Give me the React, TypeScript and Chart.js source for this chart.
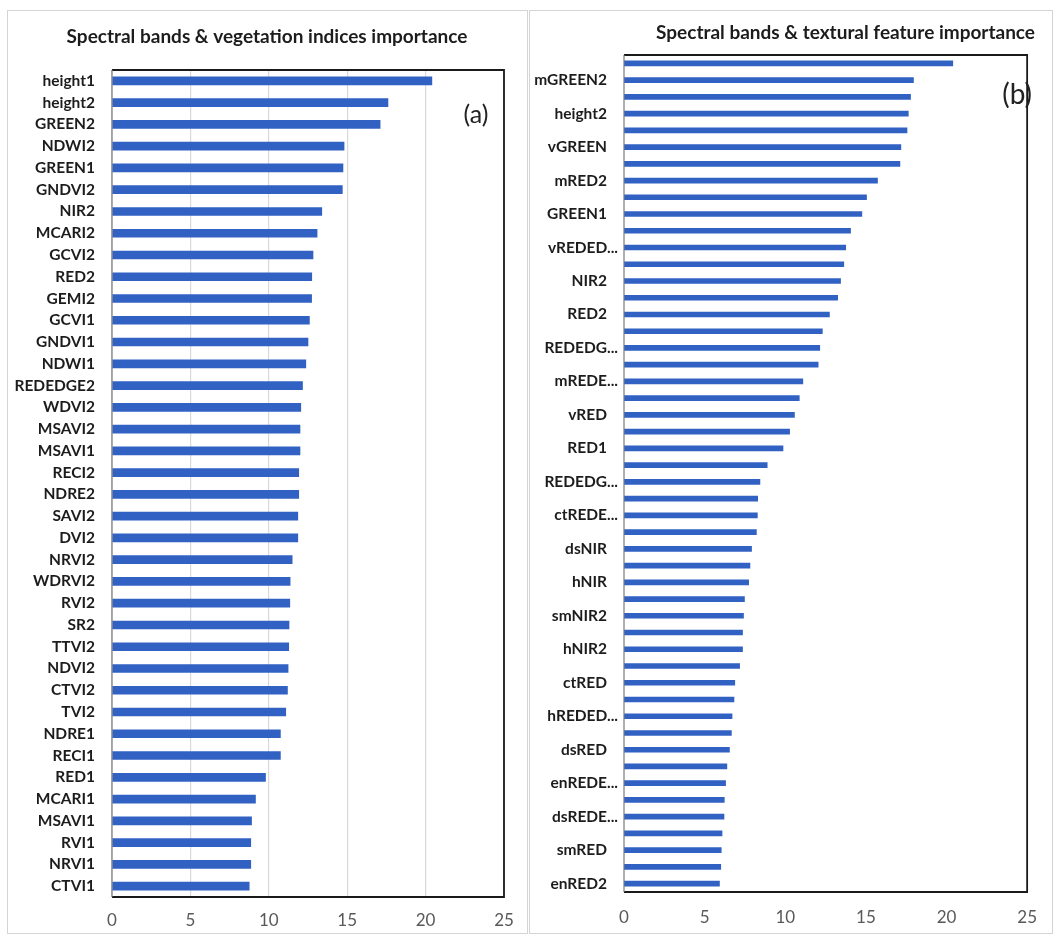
import { useEffect, useRef } from 'react';
import { Chart, registerables } from 'chart.js';

Chart.register(...registerables);

// Panel (a): spectral bands & vegetation indices
const vegLabels = [
  'height1', 'height2', 'GREEN2', 'NDWI2', 'GREEN1', 'GNDVI2', 'NIR2', 'MCARI2', 'GCVI2', 'RED2',
  'GEMI2', 'GCVI1', 'GNDVI1', 'NDWI1', 'REDEDGE2', 'WDVI2', 'MSAVI2', 'MSAVI1', 'RECI2', 'NDRE2',
  'SAVI2', 'DVI2', 'NRVI2', 'WDRVI2', 'RVI2', 'SR2', 'TTVI2', 'NDVI2', 'CTVI2', 'TVI2',
  'NDRE1', 'RECI1', 'RED1', 'MCARI1', 'MSAVI1', 'RVI1', 'NRVI1', 'CTVI1',
];
const vegValues = [
  20.4, 17.6, 17.1, 14.8, 14.73, 14.69, 13.38, 13.08, 12.82, 12.74,
  12.73, 12.59, 12.5, 12.36, 12.15, 12.04, 11.99, 11.99, 11.91, 11.91,
  11.85, 11.85, 11.49, 11.36, 11.34, 11.29, 11.27, 11.23, 11.19, 11.08,
  10.74, 10.74, 9.79, 9.15, 8.9, 8.85, 8.85, 8.75,
];

// Panel (b): spectral bands & textural features (only every second name is printed)
const texLabels = [
  '', 'mGREEN2', '', 'height2', '', 'vGREEN', '', 'mRED2', '', 'GREEN1',
  '', 'vREDED...', '', 'NIR2', '', 'RED2', '', 'REDEDG...', '', 'mREDE...',
  '', 'vRED', '', 'RED1', '', 'REDEDG...', '', 'ctREDE...', '', 'dsNIR',
  '', 'hNIR', '', 'smNIR2', '', 'hNIR2', '', 'ctRED', '', 'hREDED...',
  '', 'dsRED', '', 'enREDE...', '', 'dsREDE...', '', 'smRED', '', 'enRED2',
];
const texValues = [
  20.39, 17.95, 17.77, 17.63, 17.55, 17.17, 17.11, 15.72, 15.04, 14.75,
  14.05, 13.75, 13.63, 13.43, 13.25, 12.74, 12.3, 12.14, 12.04, 11.09,
  10.87, 10.57, 10.27, 9.86, 8.88, 8.43, 8.29, 8.27, 8.21, 7.91,
  7.81, 7.73, 7.47, 7.41, 7.35, 7.35, 7.17, 6.87, 6.82, 6.7,
  6.66, 6.54, 6.38, 6.3, 6.22, 6.2, 6.08, 6.03, 6.0, 5.92,
];

const xMin = 0;
const xMax = 25;
const xStep = 5;

const FONT = 'Lato, "Open Sans", "DejaVu Sans", sans-serif';
const BAR_COLOR = '#3162C3';
const TEXT_DARK = '#1c1c1c';

// Black frame round the plot area plus the panel letter
const plotBox = {
  id: 'plotBox',
  afterDraw(chart: any, _args: any, opts: any) {
    const { ctx, chartArea: a } = chart;
    ctx.save();
    ctx.strokeStyle = '#1a1a1a';
    ctx.lineWidth = 1.8;
    ctx.beginPath();
    ctx.moveTo(a.left, a.top);
    ctx.lineTo(a.right, a.top);
    ctx.lineTo(a.right, a.bottom);
    ctx.lineTo(a.left, a.bottom);
    ctx.stroke();
    ctx.strokeStyle = '#7a7a7a';
    ctx.lineWidth = 1.2;
    ctx.beginPath();
    ctx.moveTo(a.left, a.top);
    ctx.lineTo(a.left, a.bottom);
    ctx.stroke();
    if (opts && opts.tag) {
      ctx.font = `${opts.tagSize}px ${FONT}`;
      ctx.fillStyle = '#222';
      ctx.textAlign = 'center';
      ctx.textBaseline = 'middle';
      ctx.fillText(opts.tag, a.right + opts.tagDx, a.top + opts.tagDy);
    }
    ctx.restore();
  },
};

// Category names drawn beside the axis; clipped names let their "..." hang past the edge
const catLabels = {
  id: 'catLabels',
  afterDraw(chart: any, _args: any, opts: any) {
    if (!opts || !opts.enabled) return;
    const { ctx, chartArea: a } = chart;
    const yScale = chart.scales.y;
    const labels: string[] = chart.data.labels;
    ctx.save();
    ctx.font = `bold ${opts.size}px ${FONT}`;
    ctx.fillStyle = TEXT_DARK;
    ctx.textAlign = 'right';
    ctx.textBaseline = 'middle';
    const dots = ctx.measureText('...').width;
    labels.forEach((lab, i) => {
      if (!lab) return;
      const extra = lab.endsWith('...') ? dots : 0;
      ctx.fillText(lab, a.left - opts.gap + extra, yScale.getPixelForValue(i));
    });
    ctx.restore();
  },
};

type PanelProps = {
  left: number;
  width: number;
  title: string;
  titleAlign: 'start' | 'center' | 'end';
  titlePad: { top: number; bottom: number };
  labels: string[];
  values: number[];
  barThickness: number;
  padLeft: number;
  padRight: number;
  yWidth: number;
  xHeight: number;
  xTickPad: number;
  grid: boolean;
  tag: string;
  tagSize: number;
  tagDx: number;
  tagDy: number;
};

function Panel(p: PanelProps) {
  const ref = useRef<HTMLCanvasElement | null>(null);

  useEffect(() => {
    if (!ref.current) return;
    const chart = new Chart(ref.current, {
      type: 'bar',
      data: {
        labels: p.labels,
        datasets: [
          {
            data: p.values,
            backgroundColor: BAR_COLOR,
            borderWidth: 0,
            barThickness: p.barThickness,
          },
        ],
      },
      plugins: [plotBox, catLabels],
      options: {
        indexAxis: 'y',
        responsive: false,
        animation: false,
        layout: { padding: { left: p.padLeft, right: p.padRight, top: 0, bottom: 0 } },
        scales: {
          x: {
            type: 'linear',
            min: xMin,
            max: xMax,
            afterFit: (s: any) => {
              s.height = p.xHeight;
            },
            ticks: {
              stepSize: xStep,
              padding: p.xTickPad,
              color: '#595959',
              font: { family: FONT, size: 17 },
            },
            grid: { display: p.grid, color: '#d9d9d9', lineWidth: 1.2, drawTicks: false },
            border: { display: false },
          },
          y: {
            type: 'category',
            afterFit: (s: any) => {
              s.width = p.yWidth;
            },
            ticks: { display: false },
            grid: { display: false, drawTicks: false },
            border: { display: false },
          },
        },
        plugins: {
          legend: { display: false },
          tooltip: { enabled: false },
          title: {
            display: true,
            text: p.title,
            align: p.titleAlign,
            color: TEXT_DARK,
            font: { family: FONT, size: 19, weight: 'bold' },
            padding: p.titlePad,
          },
          plotBox: { tag: p.tag, tagSize: p.tagSize, tagDx: p.tagDx, tagDy: p.tagDy },
          catLabels: { enabled: true, size: 15.5, gap: 17 },
        } as any,
      },
    } as any);
    return () => chart.destroy();
  }, []);

  return (
    <div
      style={{
        position: 'absolute',
        left: p.left,
        top: 10,
        width: p.width,
        height: 922,
        border: '1px solid #d4d4d4',
        background: '#fff',
      }}
    >
      <canvas ref={ref} width={p.width} height={922} style={{ display: 'block' }} />
    </div>
  );
}

export default function App() {
  return (
    <div
      style={{
        position: 'absolute',
        left: 0,
        top: 0,
        width: 1054,
        height: 936,
        background: '#fff',
        overflow: 'hidden',
      }}
    >
      <Panel
        left={7}
        width={519}
        title="Spectral bands & vegetation indices importance"
        titleAlign="center"
        titlePad={{ top: 14.6, bottom: 21.6 }}
        labels={vegLabels}
        values={vegValues}
        barThickness={8}
        padLeft={22}
        padRight={23}
        yWidth={82}
        xHeight={36}
        xTickPad={13}
        grid={true}
        tag="(a)"
        tagSize={25}
        tagDx={-28}
        tagDy={45}
      />
      <Panel
        left={529}
        width={522}
        title="Spectral bands & textural feature importance"
        titleAlign="end"
        titlePad={{ top: 10.6, bottom: 10.6 }}
        labels={texLabels}
        values={texValues}
        barThickness={5}
        padLeft={0}
        padRight={17}
        yWidth={94}
        xHeight={41}
        xTickPad={15}
        grid={false}
        tag="(b)"
        tagSize={28}
        tagDx={-10}
        tagDy={40}
      />
    </div>
  );
}
